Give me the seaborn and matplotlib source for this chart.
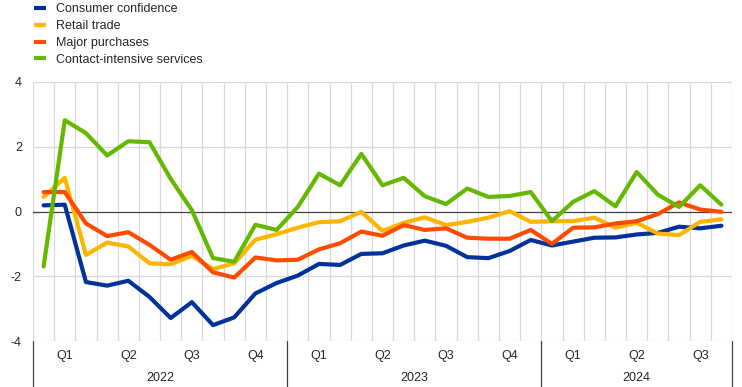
import matplotlib
matplotlib.use("Agg")
import matplotlib.pyplot as plt
import matplotlib.transforms as mtransforms
from matplotlib.lines import Line2D
import numpy as np
import pandas as pd
import seaborn as sns

# ---- data (monthly, Jan 2022 - Sep 2024) ----
consumer_confidence = [0.19, 0.21, -2.18, -2.29, -2.14, -2.64, -3.29, -2.80, -3.51, -3.27, -2.53, -2.21,
                       -1.98, -1.62, -1.65, -1.31, -1.29, -1.05, -0.90, -1.06, -1.41, -1.44, -1.22, -0.88,
                       -1.05, -0.93, -0.81, -0.80, -0.71, -0.66, -0.47, -0.52, -0.44]
retail_trade = [0.45, 1.04, -1.34, -0.96, -1.08, -1.60, -1.63, -1.37, -1.78, -1.60, -0.87, -0.70,
                -0.50, -0.33, -0.30, -0.01, -0.60, -0.35, -0.18, -0.42, -0.32, -0.19, 0.01, -0.32,
                -0.30, -0.30, -0.19, -0.50, -0.35, -0.68, -0.73, -0.32, -0.24]
major_purchases = [0.60, 0.60, -0.37, -0.76, -0.64, -1.03, -1.49, -1.25, -1.88, -2.04, -1.42, -1.51,
                   -1.49, -1.17, -0.98, -0.62, -0.75, -0.42, -0.57, -0.52, -0.81, -0.84, -0.84, -0.57,
                   -1.00, -0.50, -0.49, -0.37, -0.30, -0.08, 0.28, 0.06, -0.01]
contact_intensive = [-1.70, 2.82, 2.42, 1.73, 2.17, 2.14, 1.01, 0.04, -1.44, -1.55, -0.41, -0.57,
                     0.14, 1.17, 0.81, 1.78, 0.81, 1.04, 0.47, 0.23, 0.71, 0.45, 0.48, 0.60,
                     -0.30, 0.30, 0.63, 0.16, 1.22, 0.52, 0.14, 0.81, 0.21]

series_names = ["Consumer confidence", "Retail trade", "Major purchases", "Contact-intensive services"]
colors = ["#003299", "#FFB400", "#FF4B00", "#65B800"]
quarter_labels = ["Q1", "Q2", "Q3", "Q4"]
years = ["2022", "2023", "2024"]
months_per_year = [12, 12, 9]
y_ticks = [-4, -2, 0, 2, 4]

n = len(consumer_confidence)
df = pd.DataFrame({
    "idx": np.tile(np.arange(n), 4),
    "value": consumer_confidence + retail_trade + major_purchases + contact_intensive,
    "series": np.repeat(series_names, n),
})

sns.set_style("white")
plt.rcParams["font.family"] = ["Liberation Sans", "DejaVu Sans"]
fs = 9

fig = plt.figure(figsize=(7.42, 3.87), dpi=100)
ax = fig.add_axes([33 / 742, 1 - 341 / 387, (732 - 33) / 742, (341 - 82) / 387])

sns.lineplot(data=df, x="idx", y="value", hue="series", hue_order=series_names,
             palette=colors, linewidth=3, legend=False, ax=ax, zorder=3)

ax.set_xlim(-0.5, n - 0.5)
ax.set_ylim(-4, 4)
for s in ax.spines.values():
    s.set_visible(False)

# grid
for yv in y_ticks:
    if yv == 0:
        ax.axhline(0, color="#404040", lw=0.9, zorder=2)
    else:
        ax.axhline(yv, color="#d9d9d9", lw=0.9, zorder=1)
for xv in np.arange(-0.5, n, 1.0):
    ax.axvline(xv, color="#d9d9d9", lw=0.9, zorder=1)

ax.set_yticks(y_ticks)
ax.set_yticklabels([str(v) for v in y_ticks], fontsize=fs)
ax.tick_params(axis="y", length=0, pad=8)
ax.set_xticks([])
ax.set_xlabel("")
ax.set_ylabel("")

# x-axis: quarters and years
trans = mtransforms.blended_transform_factory(ax.transData, ax.transAxes)
start = 0
h = 341 - 82
for yr, nm in zip(years, months_per_year):
    for q in range(nm // 3):
        ax.text(start + 3 * q + 1, -15 / h, quarter_labels[q], transform=trans,
                ha="center", va="center", fontsize=fs)
    ax.text(start + (nm - 1) / 2, -37 / h, yr, transform=trans,
            ha="center", va="center", fontsize=fs)
    start += nm
bounds = np.cumsum([0] + months_per_year) - 0.5
for b in bounds:
    ax.plot([b, b], [0, -46 / h], transform=trans, color="#404040", lw=0.9, clip_on=False)

# legend
handles = [Line2D([0], [0], color=c, lw=3, solid_capstyle="butt") for c in colors]
fig.legend(handles, series_names, loc="upper left", bbox_to_anchor=(34 / 742, 1 - 3.5 / 387),
           frameon=False, fontsize=fs, handlelength=0.92, handletextpad=0.8,
           labelspacing=0.38, borderpad=0, borderaxespad=0.0)

fig.savefig("out.png", dpi=100)
